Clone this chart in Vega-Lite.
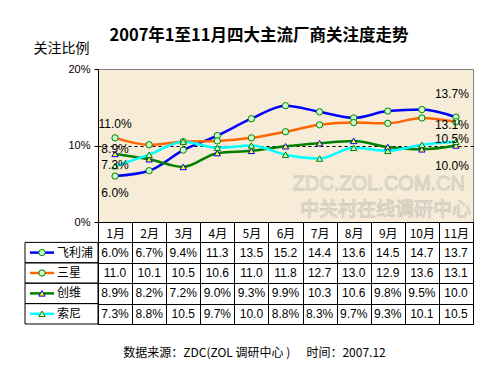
{
  "$schema": "https://vega.github.io/schema/vega-lite/v6.json",
  "background": "white",
  "padding": {"left": 24, "top": 28, "right": 28, "bottom": 15},
  "config": {"font": "Liberation Sans, Noto Sans CJK SC"},
  "spacing": 0,
  "bounds": "flush",
  "columns": 2,
  "title": {"text": "2007年1至11月四大主流厂商关注度走势", "font": "Noto Sans CJK SC", "fontSize": 16.5, "fontWeight": "bold", "anchor": "middle", "color": "black", "offset": -4, "dx": 10},
  "datasets": {
    "main": [
      {"month": "1月", "series": "飞利浦", "value": 6.0},
      {"month": "2月", "series": "飞利浦", "value": 6.7},
      {"month": "3月", "series": "飞利浦", "value": 9.4},
      {"month": "4月", "series": "飞利浦", "value": 11.3},
      {"month": "5月", "series": "飞利浦", "value": 13.5},
      {"month": "6月", "series": "飞利浦", "value": 15.2},
      {"month": "7月", "series": "飞利浦", "value": 14.4},
      {"month": "8月", "series": "飞利浦", "value": 13.6},
      {"month": "9月", "series": "飞利浦", "value": 14.5},
      {"month": "10月", "series": "飞利浦", "value": 14.7},
      {"month": "11月", "series": "飞利浦", "value": 13.7},
      {"month": "1月", "series": "三星", "value": 11.0},
      {"month": "2月", "series": "三星", "value": 10.1},
      {"month": "3月", "series": "三星", "value": 10.5},
      {"month": "4月", "series": "三星", "value": 10.6},
      {"month": "5月", "series": "三星", "value": 11.0},
      {"month": "6月", "series": "三星", "value": 11.8},
      {"month": "7月", "series": "三星", "value": 12.7},
      {"month": "8月", "series": "三星", "value": 13.0},
      {"month": "9月", "series": "三星", "value": 12.9},
      {"month": "10月", "series": "三星", "value": 13.6},
      {"month": "11月", "series": "三星", "value": 13.1},
      {"month": "1月", "series": "创维", "value": 8.9},
      {"month": "2月", "series": "创维", "value": 8.2},
      {"month": "3月", "series": "创维", "value": 7.2},
      {"month": "4月", "series": "创维", "value": 9.0},
      {"month": "5月", "series": "创维", "value": 9.3},
      {"month": "6月", "series": "创维", "value": 9.9},
      {"month": "7月", "series": "创维", "value": 10.3},
      {"month": "8月", "series": "创维", "value": 10.6},
      {"month": "9月", "series": "创维", "value": 9.8},
      {"month": "10月", "series": "创维", "value": 9.5},
      {"month": "11月", "series": "创维", "value": 10.0},
      {"month": "1月", "series": "索尼", "value": 7.3},
      {"month": "2月", "series": "索尼", "value": 8.8},
      {"month": "3月", "series": "索尼", "value": 10.5},
      {"month": "4月", "series": "索尼", "value": 9.7},
      {"month": "5月", "series": "索尼", "value": 10.0},
      {"month": "6月", "series": "索尼", "value": 8.8},
      {"month": "7月", "series": "索尼", "value": 8.3},
      {"month": "8月", "series": "索尼", "value": 9.7},
      {"month": "9月", "series": "索尼", "value": 9.3},
      {"month": "10月", "series": "索尼", "value": 10.1},
      {"month": "11月", "series": "索尼", "value": 10.5}
    ]
  },
  "concat": [
    {
      "width": 73, "height": 153,
      "view": {"stroke": null},
      "data": {"values": [{"t": ""}]},
      "mark": {"type": "text"},
      "encoding": {"text": {"field": "t", "type": "nominal"}}
    },
    {
      "width": 375, "height": 153,
      "view": {"fill": "#F6ECD7", "stroke": "#808080"},
      "layer": [
        {
          "data": {"values": [{"t": "ZDC.ZOL.COM.CN"}]},
          "mark": {"type": "text", "x": "width", "y": "height", "dy": -38, "dx": -8, "fontSize": 20, "align": "right", "baseline": "middle", "fill": "#F2EADB", "stroke": "#CFC7BA", "strokeWidth": 0.8, "font": "Liberation Sans"},
          "encoding": {"text": {"field": "t", "type": "nominal"}}
        },
        {
          "data": {"values": [{"t": "中关村在线调研中心"}]},
          "mark": {"type": "text", "x": "width", "y": "height", "dy": -12, "dx": -2, "fontSize": 19, "align": "right", "baseline": "middle", "fill": "#F2EADB", "stroke": "#CFC7BA", "strokeWidth": 0.8, "font": "Noto Sans CJK SC"},
          "encoding": {"text": {"field": "t", "type": "nominal"}}
        },
        {
          "data": {"name": "main"},
          "mark": {"type": "line", "strokeWidth": 2.5, "interpolate": "monotone"},
          "encoding": {
            "x": {"field": "month", "type": "ordinal", "scale": {"domain": ["1月","2月","3月","4月","5月","6月","7月","8月","9月","10月","11月"], "paddingInner": 0, "paddingOuter": 0},
              "axis": {"title": null, "ticks": false, "domain": false, "labelAngle": 0, "labelPadding": 11, "labelBaseline": "middle", "labelFontSize": 12, "labelColor": "black", "labelFont": "Noto Sans CJK SC"}},
            "y": {"field": "value", "type": "quantitative", "scale": {"domain": [0, 20], "nice": false},
              "axis": {"values": [0, 5, 10, 15, 20], "labelExpr": "datum.value + '%'", "grid": true, "gridColor": "black", "gridDash": [3, 3],
                "gridOpacity": {"condition": {"test": "datum.value == 0 || datum.value == 20", "value": 0}, "value": 1},
                "domainColor": "black", "tickColor": "black", "tickSize": 4, "labelFontSize": 11, "labelColor": "black", "labelPadding": 4,
                "title": "关注比例", "titleAngle": 0, "titleAlign": "left", "titleBaseline": "middle", "titleX": -65, "titleY": -21,
                "titleFontSize": 14, "titleFontWeight": "normal", "titleFont": "Noto Sans CJK SC", "titleColor": "black"}},
            "color": {"field": "series", "type": "nominal", "scale": {"domain": ["飞利浦","三星","创维","索尼"], "range": ["#0000FF","#FF6600","#008000","#00FFFF"]}, "legend": null}
          }
        },
        {
          "data": {"name": "main"},
          "mark": {"type": "point", "filled": true, "size": 40, "strokeWidth": 1, "opacity": 1},
          "encoding": {
            "x": {"field": "month", "type": "ordinal"},
            "y": {"field": "value", "type": "quantitative"},
            "shape": {"field": "series", "type": "nominal", "scale": {"domain": ["飞利浦","三星","创维","索尼"], "range": ["circle","circle","triangle-up","triangle-up"]}, "legend": null},
            "fill": {"field": "series", "type": "nominal", "scale": {"domain": ["飞利浦","三星","创维","索尼"], "range": ["#CCFFCC","#CCFFCC","#FFFF00","#CCFFCC"]}, "legend": null},
            "stroke": {"field": "series", "type": "nominal", "scale": {"domain": ["飞利浦","三星","创维","索尼"], "range": ["#008000","#008000","#0000FF","#008000"]}, "legend": null}
          }
        },
        {
          "data": {"name": "main"},
          "transform": [
            {"filter": "datum.series == '三星' && datum.month == '1月'"},
            {"calculate": "format(datum.value, '.1f') + '%'", "as": "lab"}
          ],
          "mark": {"type": "text", "fontSize": 12, "dy": -14, "color": "black"},
          "encoding": {"x": {"field": "month", "type": "ordinal"}, "y": {"field": "value", "type": "quantitative"}, "text": {"field": "lab", "type": "nominal"}}
        },
        {
          "data": {"name": "main"},
          "transform": [
            {"filter": "datum.series == '飞利浦' && datum.month == '11月'"},
            {"calculate": "format(datum.value, '.1f') + '%'", "as": "lab"}
          ],
          "mark": {"type": "text", "fontSize": 12, "dy": -23, "dx": -4, "color": "black"},
          "encoding": {"x": {"field": "month", "type": "ordinal"}, "y": {"field": "value", "type": "quantitative"}, "text": {"field": "lab", "type": "nominal"}}
        },
        {
          "data": {"name": "main"},
          "transform": [
            {"filter": "datum.series == '创维' && datum.month == '1月'"},
            {"calculate": "format(datum.value, '.1f') + '%'", "as": "lab"}
          ],
          "mark": {"type": "text", "fontSize": 12, "dy": -5, "color": "black"},
          "encoding": {"x": {"field": "month", "type": "ordinal"}, "y": {"field": "value", "type": "quantitative"}, "text": {"field": "lab", "type": "nominal"}}
        },
        {
          "data": {"name": "main"},
          "transform": [
            {"filter": "datum.series == '索尼' && datum.month == '1月'"},
            {"calculate": "format(datum.value, '.1f') + '%'", "as": "lab"}
          ],
          "mark": {"type": "text", "fontSize": 12, "dy": -1, "color": "black"},
          "encoding": {"x": {"field": "month", "type": "ordinal"}, "y": {"field": "value", "type": "quantitative"}, "text": {"field": "lab", "type": "nominal"}}
        },
        {
          "data": {"name": "main"},
          "transform": [
            {"filter": "datum.series == '三星' && datum.month == '11月'"},
            {"calculate": "format(datum.value, '.1f') + '%'", "as": "lab"}
          ],
          "mark": {"type": "text", "fontSize": 12, "dy": 3, "dx": -4, "color": "black"},
          "encoding": {"x": {"field": "month", "type": "ordinal"}, "y": {"field": "value", "type": "quantitative"}, "text": {"field": "lab", "type": "nominal"}}
        },
        {
          "data": {"name": "main"},
          "transform": [
            {"filter": "datum.series == '索尼' && datum.month == '11月'"},
            {"calculate": "format(datum.value, '.1f') + '%'", "as": "lab"}
          ],
          "mark": {"type": "text", "fontSize": 12, "dy": -3, "dx": -4, "color": "black"},
          "encoding": {"x": {"field": "month", "type": "ordinal"}, "y": {"field": "value", "type": "quantitative"}, "text": {"field": "lab", "type": "nominal"}}
        },
        {
          "data": {"name": "main"},
          "transform": [
            {"filter": "datum.series == '飞利浦' && datum.month == '1月'"},
            {"calculate": "format(datum.value, '.1f') + '%'", "as": "lab"}
          ],
          "mark": {"type": "text", "fontSize": 12, "dy": 17, "color": "black"},
          "encoding": {"x": {"field": "month", "type": "ordinal"}, "y": {"field": "value", "type": "quantitative"}, "text": {"field": "lab", "type": "nominal"}}
        },
        {
          "data": {"name": "main"},
          "transform": [
            {"filter": "datum.series == '创维' && datum.month == '11月'"},
            {"calculate": "format(datum.value, '.1f') + '%'", "as": "lab"}
          ],
          "mark": {"type": "text", "fontSize": 12, "dy": 20, "dx": -4, "color": "black"},
          "encoding": {"x": {"field": "month", "type": "ordinal"}, "y": {"field": "value", "type": "quantitative"}, "text": {"field": "lab", "type": "nominal"}}
        }
      ]
    },
    {
      "width": 73, "height": 102,
      "view": {"stroke": null},
      "data": {"name": "main"},
      "transform": [{"filter": "datum.month == '1月'"}],
      "encoding": {
        "y": {"field": "series", "type": "nominal", "scale": {"domain": [" ", "飞利浦","三星","创维","索尼"], "paddingInner": 0, "paddingOuter": 0}, "axis": null}
      },
      "layer": [
        {"mark": {"type": "rect", "fillOpacity": 0, "stroke": "black", "strokeWidth": 1}},
        {
          "mark": {"type": "point", "shape": "M-1,0H1", "size": 576, "strokeWidth": 2.5, "filled": false, "opacity": 1, "xOffset": -19.5},
          "encoding": {"color": {"field": "series", "type": "nominal", "scale": {"domain": ["飞利浦","三星","创维","索尼"], "range": ["#0000FF","#FF6600","#008000","#00FFFF"]}, "legend": null}}
        },
        {
          "mark": {"type": "point", "filled": true, "size": 40, "strokeWidth": 1, "opacity": 1, "xOffset": -19.5},
          "encoding": {
            "shape": {"field": "series", "type": "nominal", "scale": {"domain": ["飞利浦","三星","创维","索尼"], "range": ["circle","circle","triangle-up","triangle-up"]}, "legend": null},
            "fill": {"field": "series", "type": "nominal", "scale": {"domain": ["飞利浦","三星","创维","索尼"], "range": ["#CCFFCC","#CCFFCC","#FFFF00","#CCFFCC"]}, "legend": null},
            "stroke": {"field": "series", "type": "nominal", "scale": {"domain": ["飞利浦","三星","创维","索尼"], "range": ["#008000","#008000","#0000FF","#008000"]}, "legend": null}
          }
        },
        {
          "mark": {"type": "text", "align": "left", "dx": -4.5, "fontSize": 12, "font": "Noto Sans CJK SC", "color": "black"},
          "encoding": {"text": {"field": "series", "type": "nominal"}}
        }
      ]
    },
    {
      "width": 375, "height": 102,
      "view": {"stroke": "black", "fill": null},
      "data": {"name": "main"},
      "transform": [{"calculate": "format(datum.value, '.1f') + (datum.value < 10 ? '%' : '')", "as": "lab"}],
      "mark": {"type": "text", "fontSize": 12, "color": "black"},
      "encoding": {
        "x": {"field": "month", "type": "ordinal", "scale": {"domain": ["1月","2月","3月","4月","5月","6月","7月","8月","9月","10月","11月"], "paddingInner": 0, "paddingOuter": 0},
          "axis": {"grid": true, "gridColor": "black", "gridWidth": 1, "gridOpacity": 1, "tickBand": "extent", "labels": false, "ticks": false, "domain": false,
            "title": "数据来源：ZDC(ZOL 调研中心 )\u00a0\u00a0\u00a0\u00a0\u00a0\u00a0时间：2007.12", "titleX": 156, "titleY": 28, "titleAlign": "center", "titleBaseline": "middle",
            "titleFont": "Noto Sans CJK SC", "titleFontSize": 12, "titleFontWeight": "normal", "titleColor": "black"}},
        "y": {"field": "series", "type": "nominal", "scale": {"domain": [" ", "飞利浦","三星","创维","索尼"], "paddingInner": 0, "paddingOuter": 0},
          "axis": {"grid": true, "gridColor": "black", "gridWidth": 1, "gridOpacity": 1, "tickBand": "extent", "labels": false, "ticks": false, "domain": false, "title": null}},
        "text": {"field": "lab", "type": "nominal"}
      }
    }
  ]
}
